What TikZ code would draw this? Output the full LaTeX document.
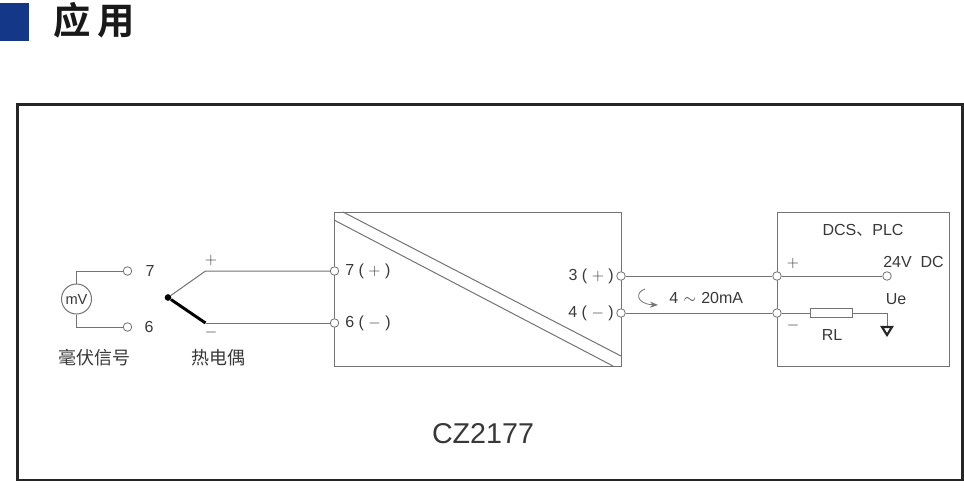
\documentclass[tikz,border=0pt]{standalone}
\usepackage{fontspec}
\setmainfont{Liberation Sans}
\newfontfamily\cjk{Noto Sans CJK SC}
\newfontfamily\cjkbold{Noto Sans CJK SC Bold}
\usetikzlibrary{arrows.meta}
\definecolor{wirecol}{gray}{0.45}
\definecolor{textcol}{gray}{0.22}
\definecolor{titleblue}{RGB}{20,55,135}
\tikzset{
  wire/.style={draw=wirecol, line width=0.75pt},
  box/.style={draw=wirecol, line width=0.75pt},
  term/.style={circle, draw=wirecol, fill=white, line width=0.6pt, inner sep=0pt, minimum size=6.4pt},
  lab/.style={text=textcol, font=\fontsize{12}{14}\selectfont, inner sep=0pt},
  cnlab/.style={text=textcol, font=\cjk\fontsize{13.5}{15}\selectfont, inner sep=0pt}
}
\begin{document}
\begin{tikzpicture}[x=0.75pt,y=-0.75pt]
\useasboundingbox (0,0) rectangle (964,490);
% title
\fill [titleblue] (0,3) rectangle (29,41);
\node [inner sep=0pt, font=\cjkbold\fontsize{28}{30}\selectfont, text=black!90] (title) at (94,20) {应\hspace{5pt}用};
% frame
\draw [black!85, line width=2.2pt] (17.3,104.7) rectangle (962.5,480);
\node [lab, font=\fontsize{21.5}{24}\selectfont] (model) at (483,434) {CZ2177};
% isolator box
\draw [box] (334,212) rectangle (621,366);
\draw [wire] (343,212) -- (621,356);
\draw [wire] (334,220) -- (613,366);
\node [term] (t7) at (334.5,271) {};
\node [term] (t6) at (334.5,323) {};
\node [lab, anchor=west] (l7) at (345,271) {7 ( $+$ )};
\node [lab, anchor=west] (l6) at (345,323) {6 ( $-$ )};
\node [term] (t3) at (621,276) {};
\node [term] (t4) at (621,313) {};
\node [lab, anchor=east] (l3) at (614,276) {3 ( $+$ )};
\node [lab, anchor=east] (l4) at (614,313) {4 ( $-$ )};
% DCS box
\draw [box] (777,212) rectangle (949,366);
\node [lab] (dcs) at (863,230) {DCS{\cjk 、}PLC};
\node [term] (jp) at (777,276) {};
\node [term] (jm) at (777,313) {};
\node [term] (t24) at (887,276) {};
\node [lab] (l24) at (913.5,262) {24V\ \ DC};
\node [lab] (ue) at (896,299) {Ue};
\node [lab] (lrl) at (832,335) {RL};
\node [lab] (lp2) at (793,263) {$+$};
\node [lab] (lm2) at (793,325) {$-$};
\node [draw=wirecol, line width=0.75pt, inner sep=0pt, minimum width=32pt, minimum height=7pt] (rl) at (831.5,313) {};
\coordinate (gnd) at (887,326);
\draw [wire] (t3) -- (jp);
\draw [wire] (t4) -- (jm);
\draw [wire] (jp) -- (t24);
\draw [wire] (jm) -- (rl);
\draw [wire] (rl) -- (887,313) -- (gnd);
\draw [black!85, line width=1.6pt] (882,327) -- (892,327) -- (887,335) -- cycle;
% current loop
\draw [wirecol, line width=0.6pt, -{Stealth[length=6pt]}] (645,289) .. controls (635,292) and (636,304) .. (658,305);
\node [lab, anchor=west] (ma) at (669,298) {4\,\,$\sim$\,\,20mA};
% mV source
\node [circle, draw=wirecol, line width=0.75pt, inner sep=0pt, minimum size=22.5pt, text=textcol, font=\fontsize{11}{13}\selectfont] (mv) at (76.5,299) {mV};
\node [term] (s7) at (127.5,271) {};
\node [term] (s6) at (127.5,327) {};
\node [lab] (ls7) at (150,271) {7};
\node [lab] (ls6) at (149,327) {6};
\draw [wire] (mv) -- (76.5,271) -- (s7);
\draw [wire] (mv) -- (76.5,327) -- (s6);
\node [cnlab] (lmv) at (94.5,358) {毫伏信号};
% thermocouple
\coordinate (tp) at (205.5,271);
\coordinate (tm) at (205.5,323);
\node [circle, fill=black, inner sep=0pt, minimum size=5pt] (tj) at (168,297.5) {};
\draw [wire] (tj) -- (tp) -- (t7);
\draw [wire] (tm) -- (t6);
\draw [black, line width=2.2pt] (tj) -- (tm);
\node [lab] (lp1) at (211,260) {$+$};
\node [lab] (lm1) at (211,332) {$-$};
\node [cnlab] (ltc) at (218.5,358) {热电偶};
\end{tikzpicture}
\end{document}
